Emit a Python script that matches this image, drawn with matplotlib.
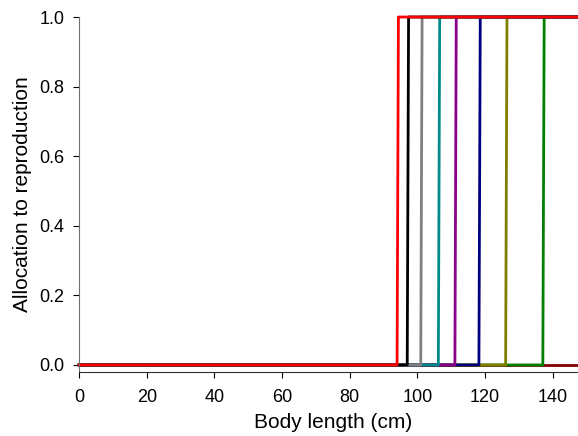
import matplotlib.pyplot as plt
import numpy as np

plt.rcParams['font.family'] = ['Liberation Sans', 'DejaVu Sans']

# Body length (cm) at which allocation switches from 0 to 1, one per curve
switch_length = [137.1, 126.1, 118.2, 111.1, 106.2, 101.0, 97.0, 94.0]
colors = ['green', 'olive', 'navy', 'darkmagenta', 'darkcyan', 'grey', 'black', 'red']
x_max = 147.5

fig = plt.figure(figsize=(5.78, 4.36), dpi=100)
ax = fig.add_axes([0.137, 0.147, 0.863, 0.814])

# curve that never switches within the plotted range
ax.plot([0, x_max], [0, 0], color='maroon', lw=2, clip_on=False)

for t, c in zip(switch_length, colors):
    xs = [0, t, t + 0.4, x_max]
    ys = [0, 0, 1, 1]
    ax.plot(xs, ys, color=c, lw=2, clip_on=False)

ax.set_xlim(0, x_max)
ax.set_ylim(-0.02, 1.0)
ax.set_xticks(np.arange(0, 141, 20))
ax.set_yticks(np.arange(0, 1.01, 0.2))
ax.set_yticklabels(['%.1f' % v for v in np.arange(0, 1.01, 0.2)])

ax.spines['top'].set_visible(False)
ax.spines['right'].set_visible(False)
ax.spines['left'].set_color('#707070')
ax.spines['bottom'].set_color('#303030')
ax.tick_params(direction='out', length=4.5, labelsize=13, pad=6)
ax.tick_params(axis='x', pad=8)

ax.set_xlabel('Body length (cm)', fontsize=15)
ax.set_ylabel('Allocation to reproduction', fontsize=15)
ax.xaxis.set_label_coords(0.509, -0.117)
ax.yaxis.set_label_coords(-0.095, 0.5)

plt.savefig('out.png', dpi=100)
